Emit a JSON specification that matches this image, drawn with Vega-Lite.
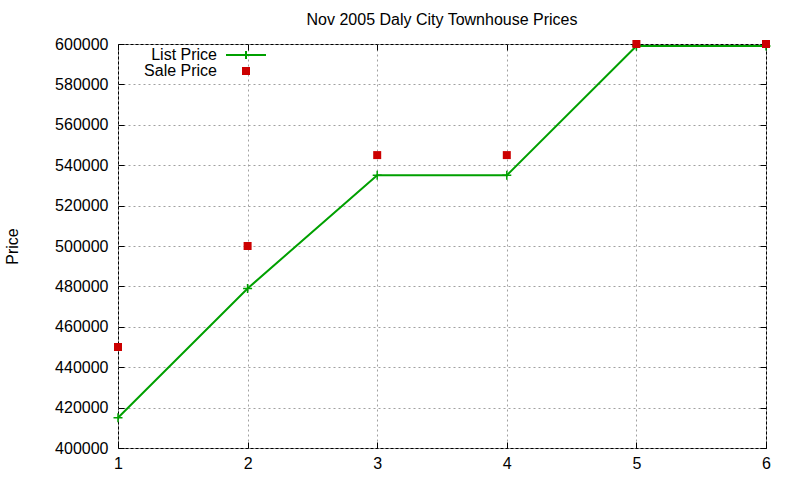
{
  "$schema": "https://vega.github.io/schema/vega-lite/v6.json",
  "width": 648,
  "height": 404,
  "autosize": {"type": "none"},
  "padding": {"left": 118, "top": 44, "right": 34, "bottom": 32},
  "background": "white",
  "title": {"text": "Nov 2005 Daly City Townhouse Prices", "fontSize": 16, "fontWeight": "normal", "font": "Liberation Sans", "color": "black", "offset": 8, "anchor": "middle"},
  "data": {"values": [
    {"x": 1, "price": 415000, "series": "List Price"},
    {"x": 2, "price": 479000, "series": "List Price"},
    {"x": 3, "price": 535000, "series": "List Price"},
    {"x": 4, "price": 535000, "series": "List Price"},
    {"x": 5, "price": 599000, "series": "List Price"},
    {"x": 6, "price": 599000, "series": "List Price"},
    {"x": 1, "price": 450000, "series": "Sale Price"},
    {"x": 2, "price": 500000, "series": "Sale Price"},
    {"x": 3, "price": 545000, "series": "Sale Price"},
    {"x": 4, "price": 545000, "series": "Sale Price"},
    {"x": 5, "price": 600000, "series": "Sale Price"},
    {"x": 6, "price": 600000, "series": "Sale Price"}
  ]},
  "config": {
    "view": {"stroke": "black", "strokeWidth": 1},
    "font": "Liberation Sans",
    "axis": {
      "domain": false,
      "grid": true,
      "gridColor": "#a0a0a0",
      "gridDash": [2, 3],
      "gridWidth": 1,
      "tickColor": "black",
      "tickSize": -6,
      "tickWidth": 1,
      "labelFont": "Liberation Sans",
      "labelFontSize": 16,
      "labelColor": "black",
      "labelFlush": false,
      "labelOverlap": false,
      "titleFont": "Liberation Sans",
      "titleFontSize": 16,
      "titleFontWeight": "normal",
      "titleColor": "black"
    }
  },
  "resolve": {"axis": {"x": "independent", "y": "independent"}},
  "layer": [
    {
      "transform": [{"filter": "datum.series === 'List Price'"}],
      "mark": {"type": "line", "strokeWidth": 2},
      "encoding": {
        "x": {"field": "x", "type": "quantitative", "scale": {"domain": [1, 6], "nice": false, "zero": false},
              "axis": {"values": [1, 2, 3, 4, 5, 6], "format": "d", "title": null, "labelPadding": 13}},
        "y": {"field": "price", "type": "quantitative", "scale": {"domain": [400000, 600000], "nice": false, "zero": false},
              "axis": {"values": [400000, 420000, 440000, 460000, 480000, 500000, 520000, 540000, 560000, 580000, 600000], "format": "d", "title": "Price", "labelPadding": 16, "titlePadding": 34}},
        "color": {"field": "series", "type": "nominal",
          "scale": {"domain": ["List Price", "Sale Price"], "range": ["#00a000", "#cc0000"]},
          "legend": {
            "title": null, "orient": "none", "legendX": 99, "legendY": 3,
            "labelFontSize": 16, "labelFont": "Liberation Sans", "labelColor": "black",
            "rowPadding": 0, "padding": 0, "symbolSize": 100,
            "encode": {
              "symbols": {"update": {
                "shape": {"signal": "datum.value === 'List Price' ? 'M-1,0H1M0,-0.2V0.2' : 'square'"},
                "size": {"signal": "datum.value === 'List Price' ? 1600 : 64"},
                "fill": {"signal": "datum.value === 'List Price' ? 'transparent' : '#cc0000'"},
                "stroke": {"signal": "datum.value === 'List Price' ? '#00a000' : '#cc0000'"},
                "strokeWidth": {"signal": "datum.value === 'List Price' ? 2 : 0"},
                "opacity": {"value": 1},
                "x": {"value": 29}
              }},
              "labels": {"update": {"align": {"value": "right"}, "x": {"value": 0}}}
            }
          }
        }
      }
    },
    {
      "transform": [{"filter": "datum.series === 'List Price'"}],
      "mark": {"type": "point", "shape": "M-1,0H1M0,-1V1", "filled": false, "color": "#00a000", "strokeWidth": 1.5, "size": 81, "opacity": 1},
      "encoding": {
        "x": {"field": "x", "type": "quantitative", "scale": {"domain": [1, 6], "nice": false, "zero": false},
              "axis": {"orient": "top", "values": [1, 2, 3, 4, 5, 6], "labels": false, "grid": false, "title": null}},
        "y": {"field": "price", "type": "quantitative", "scale": {"domain": [400000, 600000], "nice": false, "zero": false},
              "axis": {"orient": "right", "values": [400000, 420000, 440000, 460000, 480000, 500000, 520000, 540000, 560000, 580000, 600000], "labels": false, "grid": false, "title": null}}
      }
    },
    {
      "transform": [{"filter": "datum.series === 'Sale Price'"}],
      "mark": {"type": "square", "filled": true, "color": "#cc0000", "size": 64, "opacity": 1},
      "encoding": {
        "x": {"field": "x", "type": "quantitative", "scale": {"domain": [1, 6], "nice": false, "zero": false}, "axis": null},
        "y": {"field": "price", "type": "quantitative", "scale": {"domain": [400000, 600000], "nice": false, "zero": false}, "axis": null}
      }
    }
  ]
}
